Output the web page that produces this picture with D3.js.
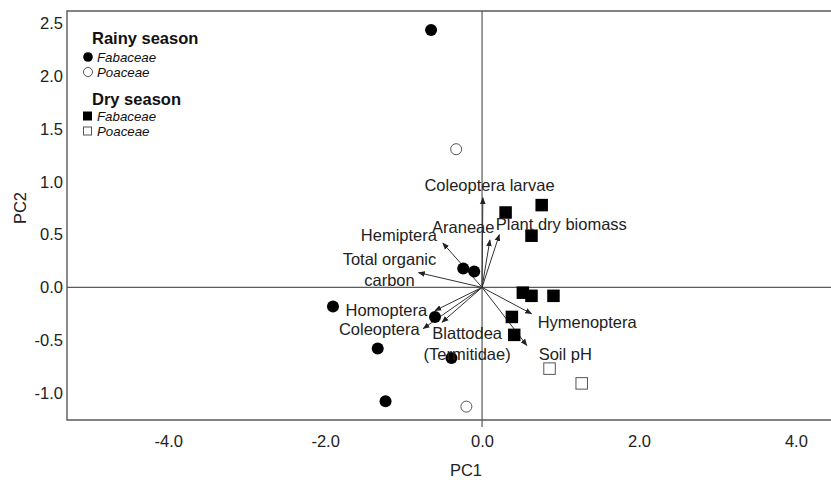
<!DOCTYPE html>
<html><head><meta charset="utf-8">
<script src="https://cdn.jsdelivr.net/npm/d3@7"></script>
<style>
html,body{margin:0;padding:0;background:#fff;}
svg{display:block;font-family:"Liberation Sans",Arial,sans-serif;}
</style></head>
<body><svg id="c" width="831" height="480"></svg>
<script>
// ---- data ----
const rainyFabaceae = [[-0.65,2.44],[-0.24,0.18],[-0.10,0.15],[-1.90,-0.18],[-0.60,-0.28],[-1.33,-0.58],[-0.39,-0.67],[-1.23,-1.08]];
const rainyPoaceae = [[-0.33,1.31],[-0.20,-1.13]];
const dryFabaceae = [[0.76,0.78],[0.30,0.71],[0.63,0.49],[0.52,-0.05],[0.63,-0.08],[0.91,-0.08],[0.38,-0.28],[0.41,-0.45]];
const dryPoaceae = [[0.86,-0.77],[1.27,-0.91]];
const vectorNames = ["Coleoptera larvae","Araneae","Plant dry biomass","Hemiptera","Total organic carbon","Homoptera","Coleoptera","Blattodea (Termitidae)","Hymenoptera","Soil pH"];
const vectorX = [0.01,0.10,0.22,-0.50,-0.81,-0.60,-0.75,-0.51,0.63,0.57];
const vectorY = [0.85,0.45,0.50,0.42,0.14,-0.22,-0.39,-0.33,-0.25,-0.55];
// label lines and label anchor (data coords of label centre)
const labelLines = [["Coleoptera larvae"],["Araneae"],["Plant dry biomass"],["Hemiptera"],["Total organic","carbon"],["Homoptera"],["Coleoptera"],["Blattodea","(Termitidae)"],["Hymenoptera"],["Soil pH"]];
const labelX = [0.095,-0.24,1.01,-1.06,-1.18,-1.22,-1.31,-0.19,1.34,1.06];
const labelY = [0.965,0.575,0.60,0.49,0.166,-0.215,-0.395,-0.53,-0.33,-0.63];
const xTicks = [-4,-2,0,2,4];
const yTicks = [-1.0,-0.5,0.0,0.5,1.0,1.5,2.0,2.5];

// ---- layout ----
const svg = d3.select("#c");
const L=67, T=11, R=832, B=420;
const x = d3.scaleLinear().domain([-5.29, 4.46]).range([L, 832]);
const y = d3.scaleLinear().domain([2.62, -1.257]).range([T, B]);
const ink="#222", frame="#5a5a5a";
const fmt = v => d3.format(".1f")(v).replace("\u2212","-");

// frame (left, top, bottom)
svg.append("path").attr("d",`M${R},${T}H${L}V${B}H${R}`).attr("fill","none").attr("stroke",frame).attr("stroke-width",1.4);
// zero lines
svg.append("line").attr("x1",L).attr("x2",R).attr("y1",y(0)).attr("y2",y(0)).attr("stroke",frame).attr("stroke-width",1.2);
svg.append("line").attr("x1",x(0)).attr("x2",x(0)).attr("y1",T).attr("y2",B+7).attr("stroke",frame).attr("stroke-width",1.2);

// axes labels via d3 axes (no tick lines)
const xAxis = svg.append("g").attr("transform",`translate(0,${B})`)
  .call(d3.axisBottom(x).tickValues(xTicks).tickFormat(fmt).tickSize(0).tickPadding(15));
const yAxis = svg.append("g").attr("transform",`translate(${L},0)`)
  .call(d3.axisLeft(y).tickValues(yTicks).tickFormat(fmt).tickSize(0).tickPadding(4));
[xAxis,yAxis].forEach(g=>{g.select(".domain").remove();g.selectAll("text").attr("font-size",16.5).attr("fill",ink).attr("font-family","Liberation Sans, Arial, sans-serif");});

svg.append("text").attr("x",466).attr("y",476).attr("text-anchor","middle").attr("font-size",16.5).attr("fill",ink).text("PC1");
svg.append("text").attr("transform","translate(26,208) rotate(-90)").attr("text-anchor","middle").attr("font-size",16.5).attr("fill",ink).text("PC2");

// arrow marker
const defs = svg.append("defs");
defs.append("marker").attr("id","ah").attr("viewBox","0 0 10 10").attr("refX",9).attr("refY",5)
  .attr("markerWidth",7).attr("markerHeight",7).attr("markerUnits","userSpaceOnUse").attr("orient","auto")
  .append("path").attr("d","M0,1L10,5L0,9Z").attr("fill","#222");

// vectors
const vecs = vectorNames.map((n,i)=>({n, vx:vectorX[i], vy:vectorY[i], lines:labelLines[i], lx:labelX[i], ly:labelY[i]}));
svg.append("g").selectAll("line").data(vecs).join("line")
  .attr("x1",x(0)).attr("y1",y(0)).attr("x2",d=>x(d.vx)).attr("y2",d=>y(d.vy))
  .attr("stroke","#333").attr("stroke-width",1).attr("marker-end","url(#ah)");

// points
const gp = svg.append("g");
const r=6, s=12.5;
gp.selectAll(".rf").data(rainyFabaceae).join("circle").attr("cx",d=>x(d[0])).attr("cy",d=>y(d[1])).attr("r",r).attr("fill","#000");
gp.selectAll(".rp").data(rainyPoaceae).join("circle").attr("cx",d=>x(d[0])).attr("cy",d=>y(d[1])).attr("r",r-0.5).attr("fill","#fff").attr("stroke","#555").attr("stroke-width",1);
gp.selectAll(".df").data(dryFabaceae).join("rect").attr("x",d=>x(d[0])-s/2).attr("y",d=>y(d[1])-s/2).attr("width",s).attr("height",s).attr("fill","#000");
gp.selectAll(".dp").data(dryPoaceae).join("rect").attr("x",d=>x(d[0])-s/2+0.5).attr("y",d=>y(d[1])-s/2+0.5).attr("width",s-1).attr("height",s-1).attr("fill","#fff").attr("stroke","#555").attr("stroke-width",1);

// vector labels
const gl = svg.append("g");
vecs.forEach(d=>{
  const n=d.lines.length, lh=21;
  d.lines.forEach((t,k)=>{
    gl.append("text").attr("x",x(d.lx)).attr("y",y(d.ly)+(k-(n-1)/2)*lh).attr("dy","0.35em")
      .attr("text-anchor","middle").attr("font-size",16.5).attr("fill",ink).text(t);
  });
});

// legend
const lg = svg.append("g");
const legendRows = [
  {type:"title", text:"Rainy season", yy:38},
  {type:"circle", fill:true, text:"Fabaceae", yy:57},
  {type:"circle", fill:false, text:"Poaceae", yy:72},
  {type:"title", text:"Dry season", yy:99},
  {type:"square", fill:true, text:"Fabaceae", yy:116},
  {type:"square", fill:false, text:"Poaceae", yy:131}
];
legendRows.forEach(d=>{
  if(d.type==="title"){
    lg.append("text").attr("x",92).attr("y",d.yy).attr("dy","0.35em").attr("font-size",16.5).attr("font-weight","bold").attr("fill","#111").text(d.text);
  } else {
    if(d.type==="circle") lg.append("circle").attr("cx",88).attr("cy",d.yy).attr("r",d.fill?4.8:4.5).attr("fill",d.fill?"#000":"#fff").attr("stroke",d.fill?"none":"#555");
    else lg.append("rect").attr("x",d.fill?83:83.5).attr("y",d.yy-(d.fill?4.5:4)).attr("width",d.fill?9:8).attr("height",d.fill?9:8).attr("fill",d.fill?"#000":"#fff").attr("stroke",d.fill?"none":"#555");
    lg.append("text").attr("x",97).attr("y",d.yy).attr("dy","0.35em").attr("font-size",13.3).attr("font-style","italic").attr("fill","#111").text(d.text);
  }
});
</script></body></html>
